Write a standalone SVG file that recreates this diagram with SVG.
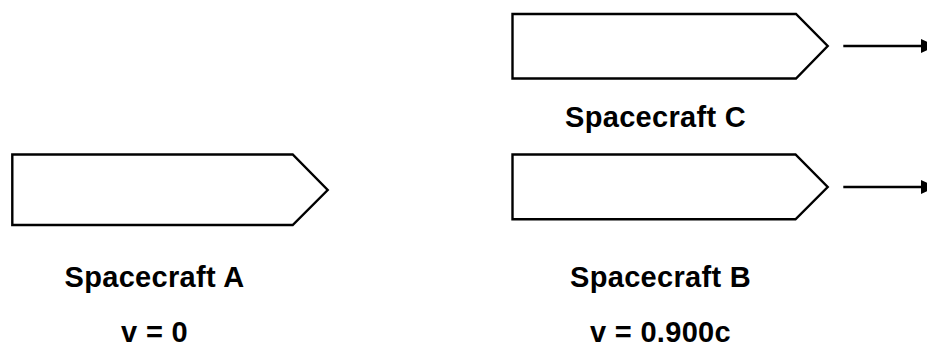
<svg xmlns="http://www.w3.org/2000/svg" width="927" height="346" viewBox="0 0 927 346">
<style>
.ship{fill:#fff;stroke:#000;stroke-width:2.4;stroke-linejoin:miter}
.lbl{font-family:"Liberation Sans",Arial,sans-serif;font-weight:bold;font-size:29px;letter-spacing:0.3px;fill:#000;text-anchor:middle}
.mv{stroke:#000;stroke-width:2.4;fill:none}
</style>
<rect width="927" height="346" fill="#fff"/>
<g id="spacecraft-c">
<polygon class="ship" points="512.5,14 796,14 827.7,46 796,78.5 512.5,78.5"/>
<text class="lbl" x="655.5" y="127">Spacecraft C</text>
</g>
<g id="spacecraft-a">
<polygon class="ship" points="12.3,154.5 292.7,154.5 327.7,190 292.7,225 12.3,225"/>
<text class="lbl" x="154.5" y="287">Spacecraft A</text>
<text class="lbl" x="154.5" y="342">v = 0</text>
</g>
<g id="spacecraft-b">
<polygon class="ship" points="512.5,154.5 795.5,154.5 827.7,187 795.5,219.3 512.5,219.3"/>
<text class="lbl" x="660.5" y="287">Spacecraft B</text>
<text class="lbl" x="660.5" y="342">v = 0.900c</text>
</g>
<g id="connectors">
<line class="mv" x1="843.3" y1="46" x2="922" y2="46"/>
<polygon points="921,39 936,46 921,53" fill="#000"/>
<line class="mv" x1="843.3" y1="187" x2="922" y2="187"/>
<polygon points="921,180 936,187 921,194" fill="#000"/>
</g>
</svg>
